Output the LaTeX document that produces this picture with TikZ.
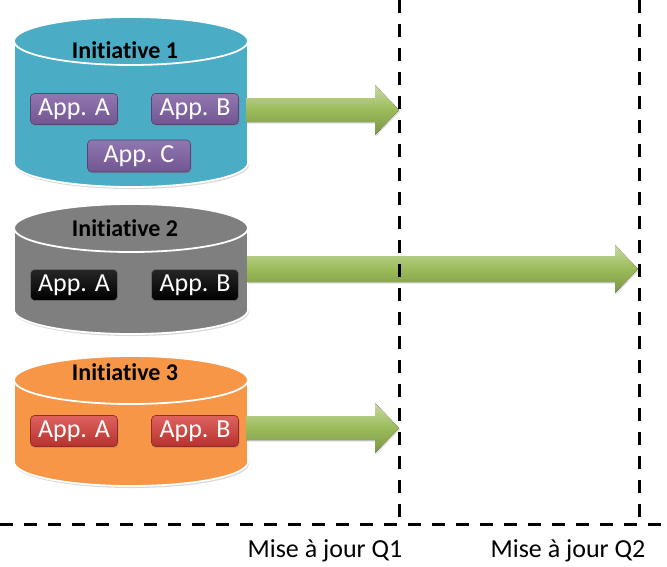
\documentclass[tikz,border=0pt]{standalone}
\usepackage{fontspec}
\setmainfont[Ligatures=NoCommon]{Carlito}
\usetikzlibrary{shadows,calc}
\definecolor{cylA}{HTML}{4BACC6}
\definecolor{cylB}{HTML}{7F7F7F}
\definecolor{cylC}{HTML}{F79646}
\definecolor{apppurple}{HTML}{7E5FA3}
\definecolor{appred}{HTML}{D63B36}
\definecolor{arrowgreen}{HTML}{9BBB59}
\tikzset{
  cylbody/.style={fill=#1, draw=white, line width=1.8pt,
    drop shadow={shadow xshift=1pt, shadow yshift=-2pt, opacity=0.3}},
  cyltop/.style={fill=#1, draw=white, line width=1.8pt},
  initlabel/.style={font=\fontsize{24}{24}\selectfont\bfseries, text=black, inner sep=0pt},
  appbox/.style={rounded corners=4pt, minimum width=87pt, minimum height=31pt,
    font=\fontsize{26}{26}\selectfont, text=white, inner sep=0pt, line width=0.6pt,
    drop shadow={shadow xshift=1pt, shadow yshift=-1.5pt, opacity=0.35}},
  purplebox/.style={appbox, top color=apppurple!85!white, bottom color=apppurple!90!black, draw=apppurple!70!black},
  blackbox/.style={appbox, top color=black!85, bottom color=black, draw=black!60},
  redbox/.style={appbox, top color=appred!80!white, bottom color=appred!85!black, draw=appred!70!black},
  greenarrow/.style={top color=arrowgreen!55!white, bottom color=arrowgreen!80!black, middle color=arrowgreen,
    drop shadow={shadow xshift=1pt, shadow yshift=-1.5pt, opacity=0.25}},
  dashline/.style={line width=3pt, dash pattern=on 13pt off 11pt, black},
  qlabel/.style={font=\fontsize{26}{26}\selectfont, text=black, inner sep=0pt}
}
\newcommand\mycyl[3]{%
  \path[cylbody=#3] (14,-#1) -- (14,-#2)
    arc[start angle=180, end angle=360, x radius=117pt, y radius=24pt]
    -- (248,-#1) arc[start angle=0, end angle=180, x radius=117pt, y radius=24pt] -- cycle;
  \path[cyltop=#3] (131,-#1) ellipse[x radius=117pt, y radius=24pt];
}
\begin{document}
\begin{tikzpicture}[x=1pt,y=1pt]
\useasboundingbox (0,0) rectangle (667,-566);
\fill[white] (0,0) rectangle (667,-566);

% cylinders
\mycyl{41}{163}{cylA}
\mycyl{228}{310}{cylB}
\mycyl{380}{462}{cylC}

\node[initlabel] (i1) at (125,-50) {Initiative 1};
\node[initlabel] (i2) at (125,-228) {Initiative 2};
\node[initlabel] (i3) at (125,-372) {Initiative 3};

\node[purplebox] (a1) at (74,-109) {App. A};
\node[purplebox] (b1) at (195,-109) {App. B};
\node[purplebox, minimum width=103pt, minimum height=32pt] (c1) at (139,-156) {App. C};

\node[blackbox] (a2) at (74,-285) {App. A};
\node[blackbox] (b2) at (195,-285) {App. B};

\node[redbox] (a3) at (74,-431) {App. A};
\node[redbox] (b3) at (195,-431) {App. B};

% arrows
\coordinate (s1) at (246,-110);
\coordinate (e1) at (399,-110);
\coordinate (s2) at (247,-269);
\coordinate (e2) at (638,-269);
\coordinate (s3) at (246,-428);
\coordinate (e3) at (399,-428);
\fill[greenarrow] ($(s1)+(0,12)$) -- ($(e1)+(-24,12)$) -- ($(e1)+(-24,25)$) -- (e1)
  -- ($(e1)+(-24,-25)$) -- ($(e1)+(-24,-12)$) -- ($(s1)+(0,-12)$) -- cycle;
\fill[greenarrow] ($(s2)+(0,13)$) -- ($(e2)+(-23,13)$) -- ($(e2)+(-23,24)$) -- (e2)
  -- ($(e2)+(-23,-24)$) -- ($(e2)+(-23,-13)$) -- ($(s2)+(0,-13)$) -- cycle;
\fill[greenarrow] ($(s3)+(0,12)$) -- ($(e3)+(-24,12)$) -- ($(e3)+(-24,25)$) -- (e3)
  -- ($(e3)+(-24,-25)$) -- ($(e3)+(-24,-12)$) -- ($(s3)+(0,-12)$) -- cycle;

% dashed lines
\coordinate (v1t) at (399,0);
\coordinate (v1b) at (399,-524);
\coordinate (v2t) at (639,0);
\coordinate (v2b) at (639,-524);
\coordinate (hl) at (0,-524);
\coordinate (hr) at (667,-524);
\draw[dashline] (v1t) -- (v1b);
\draw[dashline] (v2t) -- (v2b);
\draw[dashline] (hl) -- (hr);

\node[qlabel] (q1) at (325,-551) {Mise à jour Q1};
\node[qlabel] (q2) at (568,-551) {Mise à jour Q2};
\end{tikzpicture}
\end{document}
